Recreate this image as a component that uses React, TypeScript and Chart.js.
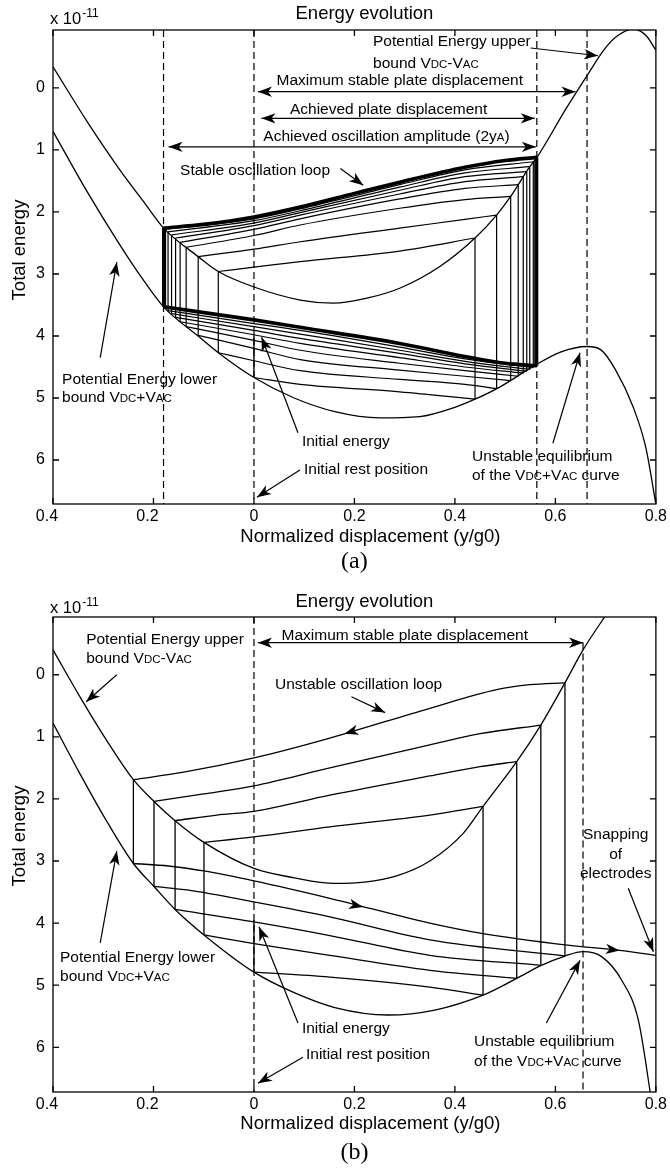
import React, { useEffect, useRef } from 'react';
import { Chart, registerables } from 'chart.js';

Chart.register(...registerables);

const SANS = '"Liberation Sans", Arial, Helvetica, sans-serif';
const SERIF = '"Liberation Serif", "Times New Roman", Times, serif';

/* ---------------- shared axis data ---------------- */
const xTickValues = [-0.4, -0.2, 0, 0.2, 0.4, 0.6, 0.8];
const yTickValues = [0, 1, 2, 3, 4, 5, 6];
const xLimits = [-0.4, 0.8];
const aYLimits = [-0.935, 6.71];
const bYLimits = [-0.93, 6.72];
const chartTitle = 'Energy evolution';
const xTitle = 'Normalized displacement (y/g0)';
const yTitle = 'Total energy';
const scaleNote = 'x 10';
const scaleExp = '-11';

/* ---------------- panel (a) data ---------------- */
const aUpperX = [-0.4, -0.333, -0.267, -0.22, -0.18, -0.111, -0.071, 0, 0.092, 0.158, 0.225, 0.29, 0.37, 0.44, 0.483, 0.511, 0.549, 0.564, 0.62, 0.663, 0.7, 0.725, 0.755, 0.78, 0.8];
const aUpperY = [-0.34, 0.53, 1.32, 1.83, 2.26, 2.72, 2.96, 3.21, 3.42, 3.47, 3.39, 3.23, 2.88, 2.42, 2.05, 1.75, 1.27, 1.11, 0.35, -0.2, -0.65, -0.85, -0.95, -0.85, -0.61];
const aLowerX = [-0.4, -0.333, -0.267, -0.22, -0.18, -0.113, -0.071, 0, 0.08, 0.161, 0.25, 0.33, 0.4, 0.44, 0.49, 0.556, 0.61, 0.663, 0.69, 0.72, 0.755, 0.78, 0.8];
const aLowerY = [0.7, 1.66, 2.53, 3.1, 3.53, 3.99, 4.27, 4.67, 5.0, 5.22, 5.32, 5.3, 5.15, 5.02, 4.82, 4.49, 4.26, 4.17, 4.22, 4.55, 5.15, 5.8, 6.71];
const aDashX = [-0.18, 0, 0.563, 0.663];
const aLeftX = [-0.18, -0.178, -0.176, -0.171, -0.164, -0.156, -0.147, -0.135, -0.111, -0.071];
const aLeftTop = [2.26, 2.27, 2.28, 2.32, 2.37, 2.42, 2.49, 2.57, 2.72, 2.96];
const aLeftBottom = [3.53, 3.55, 3.56, 3.59, 3.64, 3.7, 3.77, 3.85, 3.99, 4.27];
const aRightX = [0.44, 0.483, 0.511, 0.526, 0.536, 0.543, 0.549, 0.556, 0.559, 0.561, 0.563];
const aRightTop = [2.42, 2.05, 1.75, 1.56, 1.43, 1.35, 1.27, 1.19, 1.16, 1.14, 1.12];
const aRightBottom = [5.02, 4.85, 4.72, 4.65, 4.6, 4.57, 4.54, 4.51, 4.5, 4.49, 4.48];
const aInitX = [0, 0];
const aInitY = [4.67, 3.97];
const aTopX = [
  [-0.071, 0, 0.092, 0.29, 0.44],
  [-0.111, 0, 0.092, 0.29, 0.42, 0.483],
  [-0.135, 0, 0.092, 0.29, 0.42, 0.511],
  [-0.147, 0, 0.092, 0.29, 0.42, 0.526],
  [-0.156, 0, 0.092, 0.29, 0.42, 0.536],
  [-0.164, 0, 0.092, 0.29, 0.42, 0.543],
  [-0.171, 0, 0.092, 0.29, 0.42, 0.549],
  [-0.178, 0, 0.092, 0.29, 0.42, 0.556],
];
const aTopY = [
  [2.96, 2.89, 2.8, 2.63, 2.42],
  [2.72, 2.6, 2.48, 2.26, 2.12, 2.05],
  [2.57, 2.38, 2.21, 1.94, 1.8, 1.75],
  [2.49, 2.28, 2.11, 1.79, 1.62, 1.56],
  [2.42, 2.22, 2.05, 1.71, 1.51, 1.43],
  [2.37, 2.18, 2.01, 1.65, 1.43, 1.35],
  [2.32, 2.14, 1.98, 1.6, 1.37, 1.27],
  [2.28, 2.11, 1.95, 1.56, 1.32, 1.19],
];
const aLoopTopX = [-0.18, -0.1, 0, 0.092, 0.2, 0.29, 0.42, 0.5, 0.563];
const aLoopTopY = [2.26, 2.2, 2.08, 1.92, 1.7, 1.52, 1.28, 1.17, 1.12];
const aBotX = [
  [0, 0.092, 0.29, 0.44],
  [-0.071, 0, 0.092, 0.29, 0.42, 0.483],
  [-0.111, 0, 0.092, 0.29, 0.42, 0.511],
  [-0.135, 0, 0.092, 0.29, 0.42, 0.526],
  [-0.147, 0, 0.092, 0.29, 0.42, 0.536],
  [-0.156, 0, 0.092, 0.29, 0.42, 0.543],
  [-0.164, 0, 0.092, 0.29, 0.42, 0.549],
  [-0.171, 0, 0.092, 0.29, 0.42, 0.556],
];
const aBotY = [
  [4.67, 4.78, 4.9, 5.02],
  [4.27, 4.4, 4.56, 4.7, 4.78, 4.85],
  [3.99, 4.2, 4.38, 4.55, 4.65, 4.72],
  [3.85, 4.07, 4.23, 4.44, 4.56, 4.65],
  [3.77, 3.98, 4.12, 4.35, 4.5, 4.6],
  [3.7, 3.91, 4.04, 4.28, 4.45, 4.57],
  [3.64, 3.85, 3.97, 4.23, 4.41, 4.54],
  [3.59, 3.8, 3.91, 4.18, 4.37, 4.51],
];
const aLoopBotX = [-0.18, 0, 0.092, 0.29, 0.42, 0.5, 0.563];
const aLoopBotY = [3.53, 3.74, 3.86, 4.12, 4.33, 4.44, 4.48];

/* ---------------- panel (b) data ---------------- */
const bUpperX = [-0.4, -0.346, -0.293, -0.24, -0.199, -0.157, -0.0995, 0, 0.08, 0.16, 0.22, 0.284, 0.35, 0.417, 0.456, 0.523, 0.571, 0.619, 0.655, 0.702, 0.72];
const bUpperY = [-0.4, 0.36, 1.06, 1.69, 2.04, 2.35, 2.7, 3.12, 3.27, 3.36, 3.34, 3.24, 3.0, 2.55, 2.12, 1.4, 0.81, 0.13, -0.4, -0.98, -1.2];
const bLowerX = [-0.4, -0.346, -0.293, -0.24, -0.199, -0.157, -0.0995, 0, 0.08, 0.161, 0.267, 0.36, 0.456, 0.523, 0.572, 0.619, 0.655, 0.692, 0.732, 0.765, 0.788, 0.795];
const bLowerY = [0.78, 1.6, 2.36, 3.04, 3.41, 3.78, 4.19, 4.79, 5.12, 5.36, 5.48, 5.4, 5.16, 4.89, 4.68, 4.53, 4.46, 4.54, 4.92, 5.56, 6.69, 7.1];
const bDashX = [0, 0.655];
const bDashTop = [-0.93, -0.52];
const bLeftX = [-0.24, -0.199, -0.157, -0.0995];
const bLeftTop = [1.69, 2.04, 2.35, 2.7];
const bLeftBottom = [3.04, 3.41, 3.78, 4.19];
const bRightX = [0.456, 0.523, 0.571, 0.619];
const bRightTop = [2.12, 1.4, 0.81, 0.13];
const bRightBottom = [5.16, 4.89, 4.68, 4.53];
const bInitX = [0, 0];
const bInitY = [4.79, 3.95];
const bTopX = [
  [-0.0995, 0, 0.151, 0.35, 0.456],
  [-0.157, -0.074, 0, 0.151, 0.35, 0.45, 0.523],
  [-0.199, -0.1, 0, 0.151, 0.35, 0.45, 0.571],
  [-0.24, -0.14, 0, 0.151, 0.35, 0.483, 0.549, 0.619],
];
const bTopY = [
  [2.7, 2.61, 2.45, 2.26, 2.12],
  [2.35, 2.26, 2.2, 1.94, 1.63, 1.48, 1.4],
  [2.04, 1.92, 1.79, 1.5, 1.13, 0.95, 0.81],
  [1.69, 1.57, 1.34, 1.02, 0.54, 0.24, 0.16, 0.13],
];
const bBotX = [
  [0, 0.151, 0.35, 0.456],
  [-0.0995, 0, 0.151, 0.35, 0.523],
  [-0.157, 0, 0.151, 0.35, 0.571],
  [-0.199, -0.13, 0, 0.151, 0.35, 0.619],
  [-0.24, -0.17, -0.1, 0, 0.151, 0.35, 0.456, 0.619, 0.728, 0.8],
];
const bBotY = [
  [4.79, 4.87, 5.03, 5.16],
  [4.19, 4.33, 4.52, 4.76, 4.89],
  [3.78, 3.98, 4.2, 4.52, 4.68],
  [3.41, 3.47, 3.66, 3.9, 4.27, 4.53],
  [3.04, 3.08, 3.16, 3.32, 3.6, 4.0, 4.17, 4.35, 4.44, 4.52],
];

/* ---------------- annotations (data coordinates) ---------------- */
type Part = [string, number];
interface Note { x: number; y: number; parts: Part[]; align?: 'left' | 'center' }
interface Arrow { x1: number; y1: number; x2: number; y2: number; both?: boolean }

const boundMinus: Part[] = [['bound V', 0], ['DC', 1], ['-V', 0], ['AC', 1]];
const boundPlus: Part[] = [['bound V', 0], ['DC', 1], ['+V', 0], ['AC', 1]];
const ofCurve: Part[] = [['of the V', 0], ['DC', 1], ['+V', 0], ['AC', 1], [' curve', 0]];

const aNotes: Note[] = [
  { x: 0.237, y: -0.76, parts: [['Potential Energy upper', 0]] },
  { x: 0.237, y: -0.42, parts: boundMinus },
  { x: 0.045, y: -0.14, parts: [['Maximum stable plate displacement', 0]] },
  { x: 0.0716, y: 0.33, parts: [['Achieved plate displacement', 0]] },
  { x: 0.0186, y: 0.76, parts: [['Achieved oscillation amplitude (2y', 0], ['A', 1], [')', 0]] },
  { x: -0.147, y: 1.32, parts: [['Stable oscillation loop', 0]] },
  { x: -0.382, y: 4.68, parts: [['Potential Energy lower', 0]] },
  { x: -0.382, y: 4.98, parts: boundPlus },
  { x: 0.0955, y: 5.68, parts: [['Initial energy', 0]] },
  { x: 0.0995, y: 6.13, parts: [['Initial rest position', 0]] },
  { x: 0.434, y: 5.92, parts: [['Unstable equilibrium', 0]] },
  { x: 0.434, y: 6.23, parts: ofCurve },
];
const aArrows: Arrow[] = [
  { x1: 0.551, y1: -0.645, x2: 0.685, y2: -0.52 },
  { x1: 0.008, y1: 0.06, x2: 0.64, y2: 0.06, both: true },
  { x1: 0.015, y1: 0.49, x2: 0.559, y2: 0.49, both: true },
  { x1: -0.17, y1: 0.95, x2: 0.561, y2: 0.95, both: true },
  { x1: 0.172, y1: 1.3, x2: 0.2175, y2: 1.57 },
  { x1: -0.306, y1: 4.35, x2: -0.273, y2: 2.81 },
  { x1: 0.0876, y1: 5.56, x2: 0.0153, y2: 4.02 },
  { x1: 0.0915, y1: 6.16, x2: 0.006, y2: 6.6 },
  { x1: 0.595, y1: 5.73, x2: 0.649, y2: 4.27 },
];
const bNotes: Note[] = [
  { x: -0.334, y: -0.59, parts: [['Potential Energy upper', 0]] },
  { x: -0.334, y: -0.285, parts: boundMinus },
  { x: 0.055, y: -0.645, parts: [['Maximum stable plate displacement', 0]] },
  { x: 0.042, y: 0.134, parts: [['Unstable oscillation loop', 0]] },
  { x: 0.72, y: 2.56, parts: [['Snapping', 0]], align: 'center' },
  { x: 0.72, y: 2.87, parts: [['of', 0]], align: 'center' },
  { x: 0.72, y: 3.18, parts: [['electrodes', 0]], align: 'center' },
  { x: -0.386, y: 4.53, parts: [['Potential Energy lower', 0]] },
  { x: -0.386, y: 4.84, parts: boundPlus },
  { x: 0.0955, y: 5.68, parts: [['Initial energy', 0]] },
  { x: 0.1035, y: 6.1, parts: [['Initial rest position', 0]] },
  { x: 0.438, y: 5.89, parts: [['Unstable equilibrium', 0]] },
  { x: 0.438, y: 6.21, parts: ofCurve },
];
const bArrows: Arrow[] = [
  { x1: -0.273, y1: 0.0, x2: -0.334, y2: 0.435 },
  { x1: 0.008, y1: -0.516, x2: 0.655, y2: -0.516, both: true },
  { x1: 0.194, y1: 0.355, x2: 0.261, y2: 0.61 },
  { x1: 0.745, y1: 3.44, x2: 0.795, y2: 4.46 },
  { x1: -0.306, y1: 4.32, x2: -0.273, y2: 2.84 },
  { x1: 0.0876, y1: 5.61, x2: 0.01, y2: 4.06 },
  { x1: 0.0975, y1: 6.16, x2: 0.008, y2: 6.58 },
  { x1: 0.582, y1: 5.61, x2: 0.649, y2: 4.6 },
];
const bHeads: Arrow[] = [
  { x1: 0.21, y1: 0.88, x2: 0.18, y2: 0.95 },
  { x1: 0.195, y1: 3.7, x2: 0.217, y2: 3.74 },
  { x1: 0.705, y1: 4.42, x2: 0.728, y2: 4.44 },
];

/* ---------------- helpers ---------------- */
const pts = (xs: number[], ys: number[]) => xs.map((x, i) => ({ x, y: ys[i] }));

function curve(xs: number[], ys: number[], width = 1.3) {
  return {
    data: pts(xs, ys),
    showLine: true,
    borderColor: '#000',
    borderWidth: width,
    pointRadius: 0,
    pointHoverRadius: 0,
    cubicInterpolationMode: 'monotone',
    fill: false,
  };
}
function straight(xs: number[], ys: number[], width = 1.2, dash: number[] = []) {
  return {
    data: pts(xs, ys),
    showLine: true,
    borderColor: '#000',
    borderWidth: width,
    pointRadius: 0,
    pointHoverRadius: 0,
    tension: 0,
    borderDash: dash,
    fill: false,
  };
}

function drawRich(ctx: CanvasRenderingContext2D, parts: Part[], x: number, y: number, align: string, size: number) {
  const small = size * 0.74;
  let w = 0;
  for (const [s, sm] of parts) {
    ctx.font = `${sm ? small : size}px ${SANS}`;
    w += ctx.measureText(s).width;
  }
  let cx = align === 'center' ? x - w / 2 : x;
  ctx.textAlign = 'left';
  ctx.textBaseline = 'alphabetic';
  const base = y + size * 0.36;
  for (const [s, sm] of parts) {
    ctx.font = `${sm ? small : size}px ${SANS}`;
    ctx.fillText(s, cx, base);
    cx += ctx.measureText(s).width;
  }
}

function head(ctx: CanvasRenderingContext2D, tx: number, ty: number, fx: number, fy: number) {
  const a = Math.atan2(ty - fy, tx - fx);
  const len = 14;
  const half = 5.2;
  ctx.save();
  ctx.translate(tx, ty);
  ctx.rotate(a);
  ctx.beginPath();
  ctx.moveTo(0, 0);
  ctx.lineTo(-len, -half);
  ctx.lineTo(-len * 0.72, 0);
  ctx.lineTo(-len, half);
  ctx.closePath();
  ctx.fill();
  ctx.restore();
}

const framePlugin = {
  id: 'matlabFrame',
  afterDatasetsDraw(chart: any) {
    const { ctx, chartArea: a, scales } = chart;
    ctx.save();
    ctx.strokeStyle = '#000';
    ctx.lineWidth = 1.3;
    ctx.setLineDash([]);
    ctx.strokeRect(a.left, a.top, a.right - a.left, a.bottom - a.top);
    ctx.beginPath();
    for (const v of xTickValues) {
      const px = scales.x.getPixelForValue(v);
      ctx.moveTo(px, a.bottom);
      ctx.lineTo(px, a.bottom - 6);
      ctx.moveTo(px, a.top);
      ctx.lineTo(px, a.top + 6);
    }
    for (const v of yTickValues) {
      const py = scales.y.getPixelForValue(v);
      ctx.moveTo(a.left, py);
      ctx.lineTo(a.left + 6, py);
      ctx.moveTo(a.right, py);
      ctx.lineTo(a.right - 6, py);
    }
    ctx.stroke();
    ctx.restore();
  },
};

interface PanelSpec {
  height: number;
  areaTop: number;
  areaBottom: number;
  yLimits: number[];
  datasets: any[];
  notes: Note[];
  arrows: Arrow[];
  heads: Arrow[];
  letter: string;
  titleDy: number;
  noteDy: number;
  xTitleDy: number;
  letterDy: number;
  yTitleDy: number;
}

function notesPlugin(p: PanelSpec) {
  return {
    id: 'notes',
    afterDraw(chart: any) {
      const { ctx, chartArea: ca, scales } = chart;
      const X = (v: number) => scales.x.getPixelForValue(v);
      const Y = (v: number) => scales.y.getPixelForValue(v);
      ctx.save();
      ctx.fillStyle = '#000';
      ctx.strokeStyle = '#000';
      ctx.setLineDash([]);
      for (const n of p.notes) drawRich(ctx, n.parts, X(n.x), Y(n.y), n.align ?? 'left', 15.5);
      ctx.lineWidth = 1.2;
      for (const a of p.arrows) {
        const x1 = X(a.x1), y1 = Y(a.y1), x2 = X(a.x2), y2 = Y(a.y2);
        ctx.beginPath();
        ctx.moveTo(x1, y1);
        ctx.lineTo(x2, y2);
        ctx.stroke();
        head(ctx, x2, y2, x1, y1);
        if (a.both) head(ctx, x1, y1, x2, y2);
      }
      for (const h of p.heads) head(ctx, X(h.x2), Y(h.y2), X(h.x1), Y(h.y1));

      const midX = (ca.left + ca.right) / 2;
      const midY = (ca.top + ca.bottom) / 2;
      drawRich(ctx, [[chartTitle, 0]], midX + 10, ca.top + p.titleDy, 'center', 18.5);
      // x 10^-11
      ctx.font = `16.5px ${SANS}`;
      ctx.textAlign = 'left';
      ctx.textBaseline = 'alphabetic';
      const nx = ca.left - 3;
      const nb = ca.top + p.noteDy + 6;
      ctx.fillText(scaleNote, nx, nb);
      const nw = ctx.measureText(scaleNote).width;
      ctx.font = `12px ${SANS}`;
      ctx.fillText(scaleExp, nx + nw + 1, nb - 7);
      drawRich(ctx, [[xTitle, 0]], midX + 16, ca.bottom + p.xTitleDy, 'center', 18.5);
      ctx.font = `24px ${SERIF}`;
      ctx.textAlign = 'center';
      ctx.textBaseline = 'middle';
      ctx.fillText(p.letter, midX, ca.bottom + p.letterDy);
      ctx.save();
      ctx.translate(18, midY + p.yTitleDy);
      ctx.rotate(-Math.PI / 2);
      drawRich(ctx, [[yTitle, 0]], 0, 0, 'center', 18.5);
      ctx.restore();
      ctx.restore();
    },
  };
}

function buildConfig(p: PanelSpec): any {
  return {
    type: 'scatter',
    data: { datasets: p.datasets },
    options: {
      responsive: false,
      animation: false,
      events: [],
      layout: { padding: { left: 0, right: 14, top: p.areaTop, bottom: 0 } },
      plugins: { legend: { display: false }, tooltip: { enabled: false }, title: { display: false } },
      scales: {
        x: {
          type: 'linear',
          min: xLimits[0],
          max: xLimits[1],
          grid: { display: false, drawTicks: false },
          border: { display: false },
          ticks: {
            color: '#000',
            font: { family: SANS, size: 16 },
            padding: 3,
            autoSkip: false,
            maxRotation: 0,
            callback: (v: any) => {
              const n = Number(v);
              const a = Math.abs(n);
              if (a < 1e-9) return '0';
              // the printed figure lost its minus signs; keep the label offset they left
              return n < 0 ? a.toFixed(1) + '\u2007\u2009' : a.toFixed(1);
            },
          },
          afterBuildTicks: (s: any) => {
            s.ticks = xTickValues.map((v) => ({ value: v }));
          },
          afterFit: (s: any) => {
            s.height = p.height - p.areaBottom;
          },
        },
        y: {
          type: 'linear',
          reverse: true,
          min: p.yLimits[0],
          max: p.yLimits[1],
          grid: { display: false, drawTicks: false },
          border: { display: false },
          ticks: {
            color: '#000',
            font: { family: SANS, size: 16 },
            padding: 8,
            autoSkip: false,
            callback: (v: any) => String(Math.round(Number(v))),
          },
          afterBuildTicks: (s: any) => {
            s.ticks = yTickValues.map((v) => ({ value: v }));
          },
          afterFit: (s: any) => {
            s.width = 53;
          },
        },
      },
    },
    plugins: [framePlugin, notesPlugin(p)],
  };
}

const aDatasets = [
  ...aDashX.map((x) => straight([x, x], aYLimits, 1.2, [7, 4])),
  curve(aUpperX, aUpperY),
  curve(aLowerX, aLowerY),
  ...aTopX.map((xs, i) => curve(xs, aTopY[i], 1.2)),
  ...aBotX.map((xs, i) => curve(xs, aBotY[i], 1.2)),
  curve(aLoopTopX, aLoopTopY, 3.6),
  curve(aLoopBotX, aLoopBotY, 3.6),
  ...aLeftX.map((x, i) => straight([x, x], [aLeftTop[i], aLeftBottom[i]], i === 0 ? 3 : 1.2)),
  ...aRightX.map((x, i) => straight([x, x], [aRightTop[i], aRightBottom[i]], i === aRightX.length - 1 ? 3 : 1.2)),
  straight(aInitX, aInitY, 1.4),
];

const bDatasets = [
  ...bDashX.map((x, i) => straight([x, x], [bDashTop[i], bYLimits[1]], 1.2, [7, 4])),
  curve(bUpperX, bUpperY),
  curve(bLowerX, bLowerY),
  ...bTopX.map((xs, i) => curve(xs, bTopY[i], 1.3)),
  ...bBotX.map((xs, i) => curve(xs, bBotY[i], 1.3)),
  ...bLeftX.map((x, i) => straight([x, x], [bLeftTop[i], bLeftBottom[i]], 1.3)),
  ...bRightX.map((x, i) => straight([x, x], [bRightTop[i], bRightBottom[i]], 1.3)),
  straight(bInitX, bInitY, 1.4),
];

const panelA: PanelSpec = {
  height: 580, areaTop: 30, areaBottom: 504, yLimits: aYLimits, datasets: aDatasets,
  notes: aNotes, arrows: aArrows, heads: [], letter: '(a)',
  titleDy: -18, noteDy: -12, xTitleDy: 31, letterDy: 58, yTitleDy: -17,
};
const panelB: PanelSpec = {
  height: 588, areaTop: 37, areaBottom: 512, yLimits: bYLimits, datasets: bDatasets,
  notes: bNotes, arrows: bArrows, heads: bHeads, letter: '(b)',
  titleDy: -16.5, noteDy: -10, xTitleDy: 30, letterDy: 61, yTitleDy: -18.5,
};

function Panel({ spec, top }: { spec: PanelSpec; top: number }) {
  const ref = useRef<HTMLCanvasElement>(null);
  useEffect(() => {
    if (!ref.current) return;
    const chart = new Chart(ref.current, buildConfig(spec));
    return () => chart.destroy();
  }, [spec]);
  return (
    <canvas
      ref={ref}
      width={670}
      height={spec.height}
      style={{ position: 'absolute', left: 0, top, width: 670, height: spec.height, display: 'block' }}
    />
  );
}

export default function App() {
  return (
    <div style={{ position: 'absolute', left: 0, top: 0, width: 670, height: 1168, background: '#fff', overflow: 'hidden' }}>
      <Panel spec={panelA} top={0} />
      <Panel spec={panelB} top={580} />
    </div>
  );
}
